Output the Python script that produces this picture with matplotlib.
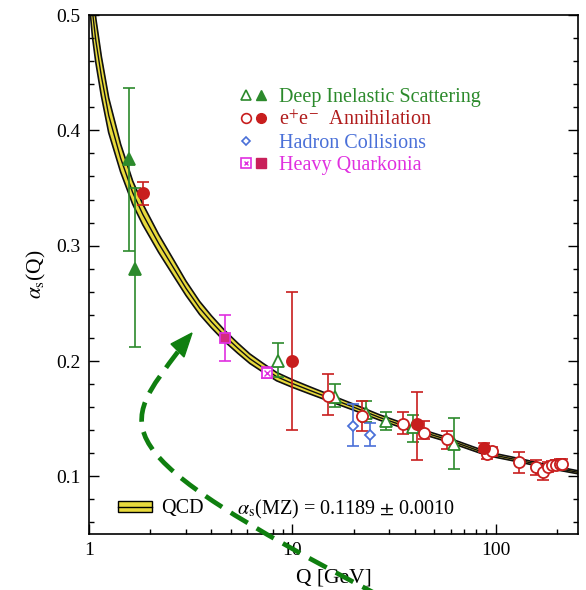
import numpy as np
import matplotlib
matplotlib.use("Agg")
import matplotlib.pyplot as plt
from matplotlib.lines import Line2D
from matplotlib.patches import Patch, PathPatch, Polygon
from matplotlib.path import Path
from matplotlib.legend_handler import HandlerTuple
from matplotlib.ticker import MultipleLocator, LogLocator, NullFormatter

plt.rcParams['font.family'] = ['Liberation Serif', 'DejaVu Serif']
plt.rcParams['mathtext.fontset'] = 'stix'

# QCD running coupling band
curve_q = [1.0, 1.04, 1.08, 1.15, 1.25, 1.43, 1.64, 1.84, 2.2, 2.6, 3.0, 3.5,
           4.0, 4.66, 5.4, 6.18, 7.2, 8.36, 10, 12, 14.7, 20, 26.9, 40, 57.5,
           91.2, 130, 180, 254]
curve_a = [0.540, 0.503, 0.478, 0.447, 0.413, 0.376, 0.346, 0.327, 0.302,
           0.281, 0.263, 0.246, 0.234, 0.2215, 0.211, 0.202, 0.194, 0.1865,
           0.1805, 0.175, 0.169, 0.160, 0.151, 0.1405, 0.132, 0.1195, 0.114,
           0.1085, 0.1035]
band_w = [0.026, 0.022, 0.019, 0.017, 0.015, 0.012, 0.010, 0.009, 0.0078,
          0.007, 0.0062, 0.0056, 0.0052, 0.0048, 0.0044, 0.0041, 0.0038,
          0.0036, 0.0033, 0.0031, 0.0029, 0.0026, 0.0023, 0.002, 0.0018,
          0.0016, 0.0015, 0.0014, 0.0013]

# Deep inelastic scattering
dis_open_q = [8.5, 16.2, 23.0, 28.8, 39.1, 62.2]
dis_open_a = [0.200, 0.169, 0.155, 0.148, 0.143, 0.128]
dis_open_up = [0.016, 0.011, 0.010, 0.008, 0.010, 0.023]
dis_open_dn = [0.014, 0.009, 0.008, 0.008, 0.013, 0.022]
dis_fill_q = [1.57, 1.68]
dis_fill_a = [0.375, 0.280]
dis_fill_up = [0.062, 0.070]
dis_fill_dn = [0.080, 0.068]

# e+e- annihilation
ee_open_q = [14.9, 21.9, 34.9, 44.3, 57.4, 90.3, 95.6, 130, 157, 170,
             180, 190, 199, 207, 213]
ee_open_a = [0.170, 0.152, 0.145, 0.138, 0.132, 0.119, 0.1216, 0.112, 0.108,
             0.1035, 0.108, 0.1095, 0.110, 0.111, 0.111]
ee_open_up = [0.019, 0.013, 0.011, 0.010, 0.007, 0.004, 0.004, 0.009, 0.0065,
              0.0065, 0.004, 0.004, 0.004, 0.004, 0.004]
ee_open_dn = [0.017, 0.013, 0.008, 0.006, 0.008, 0.004, 0.004, 0.009, 0.0065,
              0.007, 0.004, 0.004, 0.004, 0.004, 0.004]
ee_fill_q = [1.84, 10.0, 40.9, 87.3]
ee_fill_a = [0.346, 0.200, 0.145, 0.125]
ee_fill_up = [0.009, 0.060, 0.028, 0.004]
ee_fill_dn = [0.011, 0.060, 0.031, 0.004]

# hadron collisions
had_q = [19.8, 24.0]
had_a = [0.1435, 0.1355]
had_up = [0.019, 0.011]
had_dn = [0.0175, 0.0095]

# heavy quarkonia
hq_open_q = [7.5]
hq_open_a = [0.190]
hq_open_err = [0.005]
hq_fill_q = [4.66]
hq_fill_a = [0.220]
hq_fill_err = [0.020]

legend_labels = ["Deep Inelastic Scattering", r"e$^{+}$e$^{-}$  Annihilation",
                 "Hadron Collisions", "Heavy Quarkonia"]

green = '#2c8a2c'
red = '#c81e1e'
blue = '#4a70d8'
magenta = '#e030e0'
hq_fill = '#d42a80'
yellow = '#e8da3c'

W, H = 586, 590
fig = plt.figure(figsize=(W / 100, H / 100), dpi=100)
ax = fig.add_axes([89 / W, 1 - 534 / H, 489 / W, 519 / H])

# band
q = np.array(curve_q)
a = np.array(curve_a)
w = np.array(band_w)
ax.fill_between(q, a - w, a + w, color=yellow, lw=0, zorder=1)
ax.plot(q, a - w, color='#111111', lw=1.2, zorder=2)
ax.plot(q, a + w, color='#111111', lw=1.2, zorder=2)
ax.plot(q, a, color='#111111', lw=1.0, zorder=2)


def points(xs, ys, dn, up, color, marker, ms, mfc, mew=1.3):
    ax.errorbar(xs, ys, yerr=[dn, up], fmt='none', ecolor=color,
                elinewidth=1.2, capsize=4, capthick=1.2, zorder=3)
    ax.plot(xs, ys, ls='none', marker=marker, ms=ms, mfc=mfc, mec=color,
            mew=mew, zorder=4)


points(dis_open_q, dis_open_a, dis_open_dn, dis_open_up, green, '^', 8, 'white')
points(dis_fill_q, dis_fill_a, dis_fill_dn, dis_fill_up, green, '^', 8, green)
points(ee_open_q, ee_open_a, ee_open_dn, ee_open_up, red, 'o', 8, 'white')
points(ee_fill_q, ee_fill_a, ee_fill_dn, ee_fill_up, red, 'o', 8, red)
points(had_q, had_a, had_dn, had_up, blue, 'D', 5.5, 'white')
points(hq_open_q, hq_open_a, hq_open_err, hq_open_err, magenta, 's', 7, 'white')
ax.plot(hq_open_q, hq_open_a, ls='none', marker='x', ms=4, mec=magenta,
        mew=1.0, zorder=5)
ax.errorbar(hq_fill_q, hq_fill_a, yerr=hq_fill_err, fmt='none', ecolor=magenta,
            elinewidth=1.2, capsize=4, capthick=1.2, zorder=3)
ax.plot(hq_fill_q, hq_fill_a, ls='none', marker='s', ms=7, mfc=hq_fill,
        mec=magenta, mew=1.3, zorder=4)

# axes
ax.set_xscale('log')
ax.set_xlim(1, 254)
ax.set_ylim(0.05, 0.5)
ax.set_xticks([1, 10, 100])
ax.set_xticklabels(['1', '10', '100'])
ax.xaxis.set_minor_locator(LogLocator(subs=np.arange(2, 10)))
ax.xaxis.set_minor_formatter(NullFormatter())
ax.yaxis.set_major_locator(MultipleLocator(0.1))
ax.yaxis.set_minor_locator(MultipleLocator(0.02))
ax.set_yticks([0.1, 0.2, 0.3, 0.4, 0.5])
ax.set_yticklabels(['0.1', '0.2', '0.3', '0.4', '0.5'])
ax.tick_params(which='both', direction='in', top=False, right=True,
               labelsize=14, width=1.0)
ax.tick_params(which='major', length=7, pad=6)
ax.tick_params(which='minor', length=3.5)
for s in ax.spines.values():
    s.set_linewidth(1.2)
ax.set_xlabel('Q [GeV]', fontsize=15.5)
ax.xaxis.set_label_coords(0.5, -0.066)
ax.set_ylabel(r'$\alpha_{\rm s}$(Q)', fontsize=15.5)
ax.yaxis.set_label_coords(-0.083, 0.5)

# legend for the data sets
h_dis = (Line2D([], [], ls='none', marker='^', ms=7, mfc='white', mec=green, mew=1.2),
         Line2D([], [], ls='none', marker='^', ms=7, color=green))
h_ee = (Line2D([], [], ls='none', marker='o', ms=7, mfc='white', mec=red, mew=1.2),
        Line2D([], [], ls='none', marker='o', ms=7, color=red))
h_had = (Line2D([], [], ls='none', marker='D', ms=4.5, mfc='white', mec=blue, mew=1.2),
         Line2D([], [], ls='none'))
h_hq_open = (Line2D([], [], ls='none', marker='s', ms=6.5, mfc='white', mec=magenta, mew=1.2),
             Line2D([], [], ls='none', marker='x', ms=3.5, mec=magenta, mew=1.0))
h_hq = (h_hq_open, Line2D([], [], ls='none', marker='s', ms=6.5, color='#c8205a'))
leg = ax.legend([h_dis, h_ee, h_had, h_hq], legend_labels,
                handler_map={h_hq_open: HandlerTuple(ndivide=1, pad=0),
                             tuple: HandlerTuple(ndivide=None, pad=0.2)},
                loc='upper left', bbox_to_anchor=((240 - 89) / 489, 1 - (88 - 15) / 519),
                frameon=False, fontsize=14.5, handlelength=1.35, handletextpad=0.6,
                labelspacing=0.17, borderpad=0, borderaxespad=0)
for t, c in zip(leg.get_texts(), [green, '#b01c1c', blue, magenta]):
    t.set_color(c)
ax.add_artist(leg)

# QCD band legend
h_qcd = (Patch(facecolor=yellow, edgecolor='black', lw=1.0),
         Line2D([], [], color='black', lw=1.0))
ax.legend([h_qcd], ['QCD'], handler_map={tuple: HandlerTuple(ndivide=1, pad=0)},
          loc='center left', bbox_to_anchor=((118 - 89) / 489, 1 - (509 - 15) / 519),
          frameon=False, fontsize=14.5, handlelength=1.7, handleheight=0.5,
          handletextpad=0.45, borderpad=0, borderaxespad=0)
ax.text((237 - 89) / 489, 1 - (509 - 15) / 519,
        r'$\alpha_{\rm s}$(MZ) = 0.1189 $\pm$ 0.0010', transform=ax.transAxes,
        fontsize=14.5, va='center', ha='left')


# green dashed arrow drawn over the figure (pixel coords, y down)
def fp(x, y):
    return (x / W, 1 - y / H)


arrow_col = '#0f7f0f'
verts = [fp(380, 596), fp(95, 447), fp(120, 429), fp(180, 349)]
path = Path(verts, [Path.MOVETO, Path.CURVE4, Path.CURVE4, Path.CURVE4])
fig.add_artist(PathPatch(path, transform=fig.transFigure, fill=False,
                         edgecolor=arrow_col, lw=3.4, linestyle=(0, (4.2, 2.2)),
                         capstyle='butt', zorder=6, clip_on=False))
fig.add_artist(Polygon([fp(192, 333), fp(171, 344), fp(184, 357)], closed=True,
                       transform=fig.transFigure, color=arrow_col, zorder=6,
                       clip_on=False))

fig.savefig('out.png', dpi=100)
